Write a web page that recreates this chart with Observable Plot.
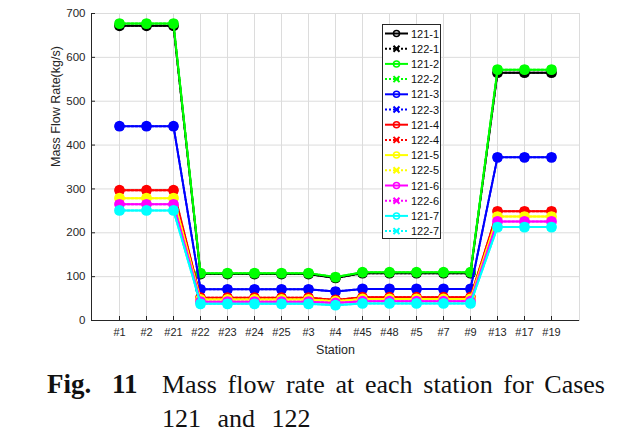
<!DOCTYPE html>
<html><head><meta charset="utf-8">
<script src="https://cdn.jsdelivr.net/npm/d3@7"></script>
<script src="https://cdn.jsdelivr.net/npm/@observablehq/plot@0.6"></script>
<style>
body{margin:0;background:#fff;width:617px;height:439px;overflow:hidden;position:relative;font-family:"Liberation Sans",Arial,sans-serif;}
#chart{position:absolute;left:0;top:0;}
#legend{position:absolute;left:0;top:0;}
.cap{position:absolute;font-family:"Liberation Serif","Times New Roman",serif;font-size:26px;color:#111;white-space:nowrap;}
</style></head>
<body>
<div id="chart"></div>
<svg id="legend" width="617" height="362"></svg>
<div class="cap" id="fig" style="left:47px;top:369px;font-weight:bold;font-size:27px;"></div>
<div class="cap" id="num" style="left:112px;top:369px;font-weight:bold;font-size:27px;"></div>
<div class="cap" id="l1" style="left:162px;top:370px;width:443px;display:flex;justify-content:space-between;"></div>
<div class="cap" id="l2" style="left:162px;top:404px;word-spacing:10px;"></div>
<script>
const stations = ["#1","#2","#21","#22","#23","#24","#25","#3","#4","#45","#48","#5","#7","#9","#13","#17","#19"];
const seriesNames = ["121-1","122-1","121-2","122-2","121-3","122-3","121-4","122-4","121-5","122-5","121-6","122-6","121-7","122-7"];
const seriesColors = ["#000000","#000000","#00ff00","#00ff00","#0000ff","#0000ff","#ff0000","#ff0000","#ffff00","#ffff00","#ff00ff","#ff00ff","#00ffff","#00ffff"];
const v121_1 = [672,672,672,106,106,106,106,106,97,108,108,108,108,108,565,565,565];
const v122_1 = [672,672,672,106,106,106,106,106,97,108,108,108,108,108,565,565,565];
const v121_2 = [677,677,677,108,108,108,108,108,99,110,110,110,110,110,572,572,572];
const v122_2 = [677,677,677,108,108,108,108,108,99,110,110,110,110,110,572,572,572];
const v121_3 = [443,443,443,71,71,71,71,71,66,72,72,72,72,72,372,372,372];
const v122_3 = [443,443,443,71,71,71,71,71,66,72,72,72,72,72,372,372,372];
const v121_4 = [297,297,297,52,52,52,52,52,47,53,53,53,53,53,249,249,249];
const v122_4 = [297,297,297,52,52,52,52,52,47,53,53,53,53,53,249,249,249];
const v121_5 = [279,279,279,48,48,48,48,48,44,49,49,49,49,49,237,237,237];
const v122_5 = [279,279,279,48,48,48,48,48,44,49,49,49,49,49,237,237,237];
const v121_6 = [265,265,265,43,43,43,43,43,40,44,44,44,44,44,226,226,226];
const v122_6 = [265,265,265,43,43,43,43,43,40,44,44,44,44,44,226,226,226];
const v121_7 = [251,251,251,38,38,38,38,38,35,39,39,39,39,39,213,213,213];
const v122_7 = [251,251,251,38,38,38,38,38,35,39,39,39,39,39,213,213,213];
const yTicks = [0,100,200,300,400,500,600,700];
const captionLabel = "Fig.";
const captionNumber = "11";
const captionLine1 = ["Mass","flow","rate","at","each","station","for","Cases"];
const captionLine2 = "121 and 122";

const allVals = [v121_1,v122_1,v121_2,v122_2,v121_3,v122_3,v121_4,v122_4,v121_5,v122_5,v121_6,v122_6,v121_7,v122_7];
const data = [];
allVals.forEach((arr,i)=>arr.forEach((v,j)=>data.push({s:seriesNames[i], st:stations[j], v})));

const marks = [
  Plot.gridX(stations,{stroke:"#dcdcdc",strokeOpacity:1,strokeWidth:1}),
  Plot.gridY(yTicks,{stroke:"#dcdcdc",strokeOpacity:1,strokeWidth:1}),
  Plot.frame({stroke:"#dcdcdc"}),
];
seriesNames.forEach((name,i)=>{
  const rows = data.filter(d=>d.s===name);
  const isDot = name.startsWith("122");
  marks.push(Plot.line(rows,{x:"st",y:"v",stroke:seriesColors[i],strokeWidth:2,strokeDasharray:isDot?"2,2":null}));
  marks.push(Plot.dot(rows,{x:"st",y:"v",stroke:seriesColors[i],fill:isDot?"none":seriesColors[i],symbol:isDot?"times":"circle",r:isDot?3.5:4.4,strokeWidth:2}));
});
marks.push(Plot.ruleY([0],{stroke:"#262626"}));
marks.push(Plot.axisY(yTicks,{tickSize:-4,stroke:"#262626",tickPadding:10,fontSize:11.5,fill:"#262626",label:null}));
marks.push(Plot.axisX(stations,{tickSize:-4,stroke:"#262626",tickPadding:12,fontSize:11,fill:"#262626",label:null}));
marks.push(Plot.text(["Mass Flow Rate(kg/s)"],{frameAnchor:"left",dx:-36,rotate:-90,fontSize:12.5,fill:"#262626"}));
marks.push(Plot.text(["Station"],{frameAnchor:"bottom",dy:33,fontSize:12.5,fill:"#262626"}));

const chart = Plot.plot({
  width:617,height:362,
  marginLeft:91,marginRight:38,marginTop:13,marginBottom:42,
  style:{fontFamily:"'Liberation Sans',Arial,sans-serif",background:"transparent",overflow:"visible"},
  x:{type:"point",domain:stations,padding:1},
  y:{domain:[0,700]},
  marks
});
document.getElementById("chart").appendChild(chart);
d3.select(chart).append("line").attr("x1",91.5).attr("x2",91.5).attr("y1",13).attr("y2",320).attr("stroke","#262626");

const lg = d3.select("#legend");
lg.append("rect").attr("x",382.5).attr("y",24.5).attr("width",58).attr("height",214).attr("fill","#fff").attr("stroke","#262626").attr("stroke-width",1);
seriesNames.forEach((name,i)=>{
  const y = 33.5 + i*15.2;
  const isDot = name.startsWith("122");
  const g = lg.append("g");
  g.append("line").attr("x1",385).attr("x2",408).attr("y1",y).attr("y2",y).attr("stroke",seriesColors[i]).attr("stroke-width",2).attr("stroke-dasharray",isDot?"2,2":null);
  if(isDot){
    g.append("path").attr("d",`M${396.5-3},${y-3}L${396.5+3},${y+3}M${396.5-3},${y+3}L${396.5+3},${y-3}`).attr("stroke",seriesColors[i]).attr("stroke-width",2);
  } else {
    g.append("circle").attr("cx",396.5).attr("cy",y).attr("r",3).attr("fill","none").attr("stroke",seriesColors[i]).attr("stroke-width",1.5);
  }
  g.append("text").attr("x",411).attr("y",y+4).attr("font-size",11).attr("fill","#111").attr("font-family","'Liberation Sans',Arial,sans-serif").text(name);
});
document.getElementById("fig").textContent = captionLabel;
document.getElementById("num").textContent = captionNumber;
const l1 = document.getElementById("l1");
captionLine1.forEach(w=>{const s=document.createElement("span");s.textContent=w;l1.appendChild(s);});
document.getElementById("l2").textContent = captionLine2;
</script>
</body></html>
